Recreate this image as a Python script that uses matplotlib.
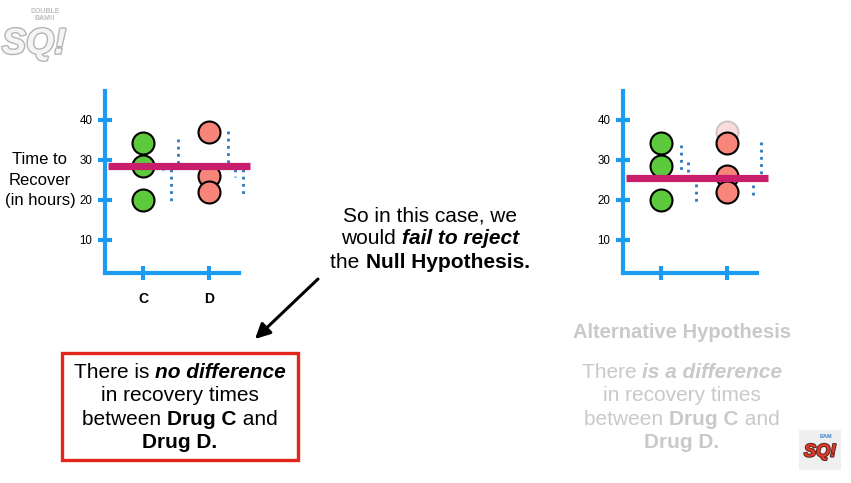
import matplotlib
matplotlib.use("Agg")
import matplotlib.pyplot as plt
from matplotlib.patches import Rectangle
import matplotlib.patheffects as pe

plt.rcParams['font.family'] = ['Liberation Sans', 'DejaVu Sans']

# data
groups = ["C", "D"]
y_ticks = [10, 20, 30, 40]

# left panel (null hypothesis)
left_c = [34.3, 28.5, 20.0]
left_d = [37.1, 26.0, 22.1]
left_mean = 28.6
# residual dotted lines: (group, x offset, from, to)
left_resid = [(0, 0.53, 35.2, 28.6), (0, 0.30, 27.8, 27.4), (0, 0.42, 27.8, 19.6),
              (1, 0.29, 37.3, 28.6), (1, 0.39, 27.8, 25.8), (1, 0.52, 27.8, 21.0)]

# right panel (alternative hypothesis)
right_c = [34.3, 28.5, 20.0]
right_d = [34.3, 26.0, 22.1]
right_d_faded = [37.1]
right_mean = 25.5
right_resid = [(0, 0.30, 33.8, 27.0), (0, 0.41, 29.5, 27.0), (0, 0.53, 24.0, 19.3),
               (1, 0.52, 34.5, 26.3), (1, 0.39, 23.8, 20.3)]

W, H = 851, 483
fig = plt.figure(figsize=(W / 100, H / 100), dpi=100)
bg = fig.add_axes([0, 0, 1, 1])
bg.set_xlim(0, W)
bg.set_ylim(H, 0)
bg.axis('off')

BLUE = '#1b9cf2'
GREEN = '#5cca3c'
SALMON = '#f8857a'
MAGENTA = '#c81e6b'
DOT = '#2a78bf'


def draw_panel(x0, c_vals, d_vals, mean, resid, faded=None, labels=True):
    # axis box in pixels: y axis at x0, x axis at y=273, top at y=90
    ax = fig.add_axes([x0 / W, (H - 273) / H, 134 / W, (273 - 91) / H])
    ax.set_facecolor('none')
    ax.set_xlim(-0.576, 1.455)
    ax.set_ylim(1.75, 47.25)
    for s in ['top', 'right']:
        ax.spines[s].set_visible(False)
    for s in ['left', 'bottom']:
        ax.spines[s].set_color(BLUE)
        ax.spines[s].set_linewidth(3)
        ax.spines[s].set_capstyle('projecting')
    ax.set_yticks(y_ticks)
    ax.set_yticklabels([str(v) for v in y_ticks], fontsize=8.3)
    ax.set_xticks([0, 1])
    if labels:
        ax.set_xticklabels(groups, fontsize=10, fontweight='bold')
    else:
        ax.set_xticklabels(['', ''])
    ax.tick_params(axis='both', direction='inout', length=10, width=3, color=BLUE)
    ax.tick_params(axis='y', pad=4)
    ax.tick_params(axis='x', pad=9)

    for g, off, a, b in resid:
        ax.plot([g + off, g + off], [a, b], color=DOT, lw=2,
                linestyle=(0, (1, 1.6)), zorder=2, clip_on=False)
    if faded:
        ax.scatter([1] * len(faded), faded, s=250, color='#fadcdc',
                   edgecolors='#cfc6c6', linewidths=1.5, zorder=2.5, clip_on=False)
    ax.scatter([0] * len(c_vals), c_vals, s=250, color=GREEN,
               edgecolors='black', linewidths=1.5, zorder=3, clip_on=False)
    ax.scatter([1] * len(d_vals), d_vals, s=250, color=SALMON,
               edgecolors='black', linewidths=1.5, zorder=3, clip_on=False)
    ax.plot([-0.53, 1.62], [mean, mean], color=MAGENTA, lw=5.2,
            solid_capstyle='butt', zorder=4, clip_on=False)
    return ax


draw_panel(105, left_c, left_d, left_mean, left_resid)
draw_panel(623, right_c, right_d, right_mean, right_resid,
           faded=right_d_faded, labels=False)

renderer = fig.canvas.get_renderer()


def adv(s, **kw):
    t = bg.text(0, 0, '|' + s + '|', **kw)
    w = t.get_window_extent(renderer).width
    t.remove()
    t = bg.text(0, 0, '||', **kw)
    w2 = t.get_window_extent(renderer).width
    t.remove()
    return w - w2


def rich_line(cx, y, parts, size, color='black'):
    # parts: (text, weight, style)
    widths = [adv(s, fontsize=size, fontweight=w, fontstyle=st) for s, w, st in parts]
    x = cx - sum(widths) / 2
    for (s, w, st), wd in zip(parts, widths):
        bg.text(x, y, s, fontsize=size, fontweight=w, fontstyle=st,
                color=color, ha='left', va='baseline')
        x += wd


N = ('normal', 'normal')
B = ('bold', 'normal')
BI = ('bold', 'italic')

# y-axis title
for i, line in enumerate(["Time to", "Recover", "(in hours)"]):
    bg.text(40, 160 + i * 20.5, line, fontsize=12, ha='center', va='center')

# middle comment
mid = [
    [("So in this case, we", *N)],
    [("would ", *N), ("fail to reject", *BI)],
    [("the ", *N), ("Null Hypothesis.", *B)],
]
for i, parts in enumerate(mid):
    rich_line(430, 221 + i * 23.5, parts, 15)

bg.annotate('', xy=(255, 339), xytext=(318, 279),
            arrowprops=dict(arrowstyle='-|>,head_length=0.9,head_width=0.45',
                            lw=2.2, color='black', shrinkA=0, shrinkB=0))

# null hypothesis box
bg.add_patch(Rectangle((62, 353), 236, 107, fill=False, edgecolor='#e2261c', lw=2.4))
null_lines = [
    [("There is ", *N), ("no difference", *BI)],
    [("in recovery times", *N)],
    [("between ", *N), ("Drug C", *B), (" and", *N)],
    [("Drug D.", *B)],
]
for i, parts in enumerate(null_lines):
    rich_line(180, 378 + i * 23.3, parts, 15)

# alternative hypothesis (faded)
GREY = '#c9c9c9'
bg.text(682, 333, "Alternative Hypothesis", fontsize=14.5, fontweight='bold',
        color=GREY, ha='center', va='center')
alt_lines = [
    [("There ", *N), ("is a difference", *BI)],
    [("in recovery times", *N)],
    [("between ", *N), ("Drug C", *B), (" and", *N)],
    [("Drug D.", *B)],
]
for i, parts in enumerate(alt_lines):
    rich_line(682, 378 + i * 23.3, parts, 15, color=GREY)

# logos
bg.text(34, 44, "SQ!", fontsize=26, fontweight='bold', fontstyle='italic',
        color='#f4f4f4', ha='center', va='center',
        path_effects=[pe.withStroke(linewidth=2, foreground='#b5b5b5')])
bg.text(45, 15, "DOUBLE\nBAM!!", fontsize=5, fontweight='bold', color='#bdbdbd',
        ha='center', va='center', linespacing=0.9)
bg.add_patch(Rectangle((799, 430), 42, 40, facecolor='#efefef', edgecolor='none'))
bg.text(820, 452, "SQ!", fontsize=13, fontweight='bold', fontstyle='italic',
        color='#e8392c', ha='center', va='center',
        path_effects=[pe.withStroke(linewidth=1.5, foreground='#5a2a20')])
bg.text(826, 437, "BAM", fontsize=4, fontweight='bold', color='#3d7fd6',
        ha='center', va='center')

fig.savefig("out.png", dpi=100)
